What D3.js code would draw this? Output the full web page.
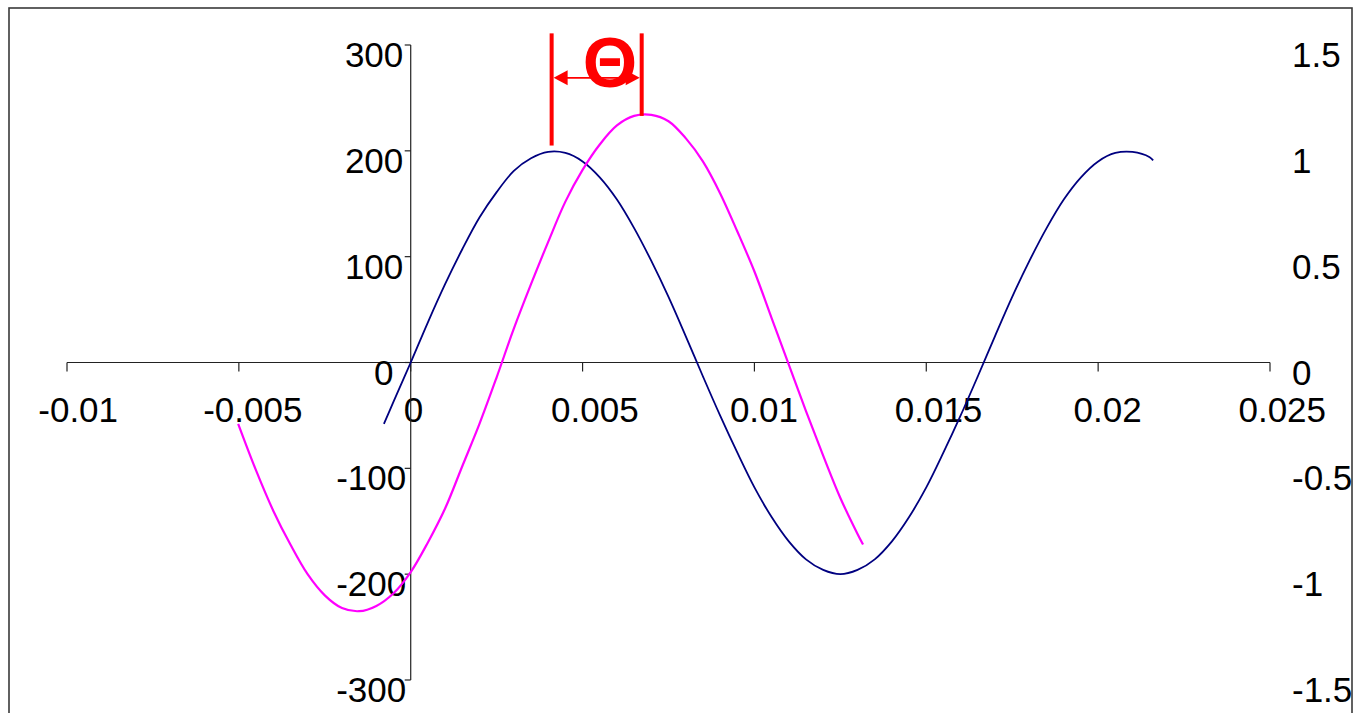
<!DOCTYPE html>
<html>
<head>
<meta charset="utf-8">
<script src="https://cdn.jsdelivr.net/npm/d3@7"></script>
<style>
  html, body { margin: 0; padding: 0; background: #fff; overflow: hidden; }
  text { font-family: "Liberation Sans", Arial, sans-serif; }
</style>
</head>
<body>
<svg id="chart" width="1357" height="713"></svg>
<script>
// Axis ticks
const xTicks = [-0.01, -0.005, 0, 0.005, 0.01, 0.015, 0.02, 0.025];
const xTickLabels = ["-0.01", "-0.005", "0", "0.005", "0.01", "0.015", "0.02", "0.025"];
const leftTicks = [-300, -200, -100, 0, 100, 200, 300];
const rightTicks = [-1.5, -1, -0.5, 0, 0.5, 1, 1.5];
const rightTickLabels = ["-1.5", "-1", "-0.5", "0", "0.5", "1", "1.5"];

// Wave on the left axis (time in s, amplitude)
const leftWaveT = [-0.00078, -0.0005, 0, 0.0005, 0.001, 0.0015, 0.002, 0.0025, 0.003, 0.0035,
  0.004, 0.0045, 0.005, 0.0055, 0.006, 0.0065, 0.007, 0.0075, 0.008, 0.0085,
  0.009, 0.0095, 0.01, 0.0105, 0.011, 0.0115, 0.012, 0.0125, 0.013, 0.0135,
  0.014, 0.0145, 0.015, 0.0155, 0.016, 0.0165, 0.017, 0.0175, 0.018, 0.0185,
  0.019, 0.0195, 0.02, 0.0205, 0.021, 0.0215, 0.0216];
const leftWaveV = [-58, -37, 0, 38, 74, 107, 137, 161, 181, 193,
  199, 198, 190, 175, 154, 127, 96, 62, 25, -13,
  -50, -85, -118, -146, -169, -186, -196, -200, -196, -186,
  -169, -146, -118, -85, -50, -13, 25, 62, 96, 127,
  154, 175, 190, 198, 199, 194, 191];

// Wave on the right axis (time in s, amplitude)
const rightWaveT = [-0.00502, -0.0045, -0.004, -0.0035, -0.003, -0.0025, -0.002, -0.0015, -0.001, -0.0005,
  0, 0.0005, 0.001, 0.0015, 0.002, 0.0025, 0.003, 0.0035, 0.004, 0.0045,
  0.005, 0.0055, 0.006, 0.0065, 0.007, 0.0075, 0.008, 0.0085, 0.009, 0.0095,
  0.01, 0.0105, 0.011, 0.0115, 0.012, 0.0125, 0.013, 0.01316];
const rightWaveV = [-0.29, -0.51, -0.70, -0.86, -1.00, -1.10, -1.16, -1.175, -1.15, -1.09,
  -0.99, -0.85, -0.69, -0.49, -0.29, -0.07, 0.16, 0.37, 0.57, 0.76,
  0.91, 1.03, 1.12, 1.165, 1.17, 1.14, 1.06, 0.95, 0.80, 0.62,
  0.43, 0.21, -0.01, -0.23, -0.44, -0.64, -0.81, -0.86];

// Phase-shift marker: peak times, line extents (left-axis units), label
const phaseMarkT = [0.0041, 0.00672];
const phaseMarkTop = [311, 311];
const phaseMarkBottom = [205, 233];
const phaseArrowLevel = 269;
const phaseLabel = "Θ";
const phaseLabelT = 0.0058;
const phaseLabelLevel = 260;

const svg = d3.select("#chart");

const x = d3.scaleLinear().domain([-0.01, 0.025]).range([67, 1270]);
const yL = d3.scaleLinear().domain([-300, 300]).range([680, 45]);
const yR = d3.scaleLinear().domain([-1.5, 1.5]).range([680, 45]);

// Outer frame
svg.append("rect")
  .attr("x", 9).attr("y", 8)
  .attr("width", 1343).attr("height", 800)
  .attr("fill", "none").attr("stroke", "#3a3a3a").attr("stroke-width", 1.6);

const axisColor = "#222";
const fontSize = 35;

// X axis along y = 0
const xAxisY = yL(0);
svg.append("line")
  .attr("x1", x(-0.01)).attr("x2", x(0.025))
  .attr("y1", xAxisY).attr("y2", xAxisY)
  .attr("stroke", axisColor).attr("stroke-width", 1.2);
svg.selectAll(".xtick").data(xTicks).enter().append("line")
  .attr("x1", d => x(d)).attr("x2", d => x(d))
  .attr("y1", xAxisY).attr("y2", xAxisY + 9)
  .attr("stroke", axisColor).attr("stroke-width", 1.2);
svg.selectAll(".xlab").data(xTicks).enter().append("text")
  .attr("text-anchor", "middle")
  .attr("font-size", fontSize)
  .attr("y", xAxisY + 59.5)
  .text((d, i) => xTickLabels[i])
  .attr("x", function (d) { return x(d) + 0.14 * this.getComputedTextLength(); });

// Left value axis at x = 0
const yAxisX = x(0);
svg.append("line")
  .attr("x1", yAxisX).attr("x2", yAxisX)
  .attr("y1", yL(300)).attr("y2", yL(-300))
  .attr("stroke", axisColor).attr("stroke-width", 1.2);
svg.selectAll(".ltick").data(leftTicks).enter().append("line")
  .attr("x1", yAxisX - 6).attr("x2", yAxisX)
  .attr("y1", d => yL(d)).attr("y2", d => yL(d))
  .attr("stroke", axisColor).attr("stroke-width", 1.2);
svg.selectAll(".llab").data(leftTicks).enter().append("text")
  .attr("text-anchor", "end")
  .attr("font-size", fontSize)
  .attr("y", d => yL(d) + 22)
  .text(d => String(d))
  .attr("x", function () { return yAxisX - 22 + 0.25 * this.getComputedTextLength(); });

// Right value axis labels
svg.selectAll(".rlab").data(rightTicks).enter().append("text")
  .attr("text-anchor", "start")
  .attr("font-size", fontSize)
  .attr("x", 1292)
  .attr("y", d => yR(d) + 22)
  .text((d, i) => rightTickLabels[i]);

// Waves
const leftLine = d3.line()
  .x((d, i) => x(leftWaveT[i]))
  .y(d => yL(d))
  .curve(d3.curveCatmullRom.alpha(0.5));
svg.append("path")
  .attr("d", leftLine(leftWaveV))
  .attr("fill", "none").attr("stroke", "#000080").attr("stroke-width", 1.8);

const rightLine = d3.line()
  .x((d, i) => x(rightWaveT[i]))
  .y(d => yR(d))
  .curve(d3.curveCatmullRom.alpha(0.5));
svg.append("path")
  .attr("d", rightLine(rightWaveV))
  .attr("fill", "none").attr("stroke", "#FF00FF").attr("stroke-width", 2.2);

// Phase-shift marker
const red = "#FF0000";
phaseMarkT.forEach((t, i) => {
  svg.append("line")
    .attr("x1", x(t)).attr("x2", x(t))
    .attr("y1", yL(phaseMarkTop[i])).attr("y2", yL(phaseMarkBottom[i]))
    .attr("stroke", red).attr("stroke-width", 4);
});
const ay = yL(phaseArrowLevel);
const ax0 = x(phaseMarkT[0]) + 2;
const ax1 = x(phaseMarkT[1]) - 2;
svg.append("line")
  .attr("x1", ax0 + 4).attr("x2", ax1 - 4)
  .attr("y1", ay).attr("y2", ay)
  .attr("stroke", red).attr("stroke-width", 1.8);
svg.append("path")
  .attr("d", `M${ax0},${ay} L${ax0 + 14},${ay - 7.5} L${ax0 + 14},${ay + 7.5} Z`)
  .attr("fill", red);
svg.append("path")
  .attr("d", `M${ax1},${ay} L${ax1 - 14},${ay - 7.5} L${ax1 - 14},${ay + 7.5} Z`)
  .attr("fill", red);
svg.append("text")
  .attr("x", x(phaseLabelT)).attr("y", yL(phaseLabelLevel))
  .attr("text-anchor", "middle")
  .attr("font-size", 70).attr("font-weight", "bold")
  .attr("fill", red)
  .text(phaseLabel);
</script>
</body>
</html>
